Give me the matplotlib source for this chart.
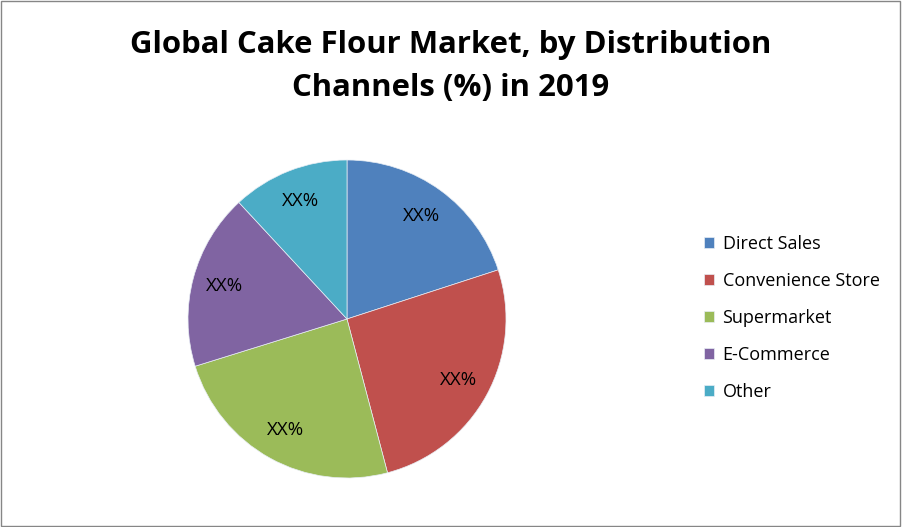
import matplotlib.pyplot as plt
from matplotlib.patches import Rectangle

channels = ['Direct Sales', 'Convenience Store', 'Supermarket', 'E-Commerce', 'Other']
shares = [20.0, 25.9, 24.3, 17.9, 11.9]
slice_labels = ['XX%', 'XX%', 'XX%', 'XX%', 'XX%']
colors = ['#4F81BD', '#C0504D', '#9BBB59', '#8064A2', '#4BACC6']

plt.rcParams['font.family'] = ['Open Sans', 'DejaVu Sans']

fig = plt.figure(figsize=(9.02, 5.27), dpi=100)
fig.patches.append(Rectangle((0.001, 0.002), 0.997, 0.996, transform=fig.transFigure,
                             fill=False, edgecolor='#868686', lw=1))

fig.text(0.5, 1 - 45 / 527, 'Global Cake Flour Market, by Distribution',
         ha='center', va='center', fontsize=22.4, fontweight='bold')
fig.text(0.5, 1 - 88 / 527, 'Channels (%) in 2019',
         ha='center', va='center', fontsize=22.4, fontweight='bold')

# pie centred at about (347, 319) px with radius ~159 px
cx, cy, r = 347 / 902, (527 - 319) / 527, 159
ax = fig.add_axes([cx - r / 902, cy - r / 527, 2 * r / 902, 2 * r / 527])
wedges, texts = ax.pie(shares, colors=colors, startangle=90, counterclock=False,
                       labels=slice_labels, labeldistance=0.8,
                       wedgeprops=dict(edgecolor='#e8eef5', linewidth=0.5),
                       textprops=dict(fontsize=13.5, ha='center', va='center'))
ax.set_xlim(-1, 1)
ax.set_ylim(-1, 1)
ax.set_aspect('equal')

fig.legend(wedges, channels, loc='center left', bbox_to_anchor=(0.781, (527 - 318) / 527),
           frameon=False, fontsize=13, handlelength=0.55, handleheight=0.55,
           labelspacing=1.05, handletextpad=0.45, borderaxespad=0, borderpad=0)

fig.savefig('out.png', dpi=100)
